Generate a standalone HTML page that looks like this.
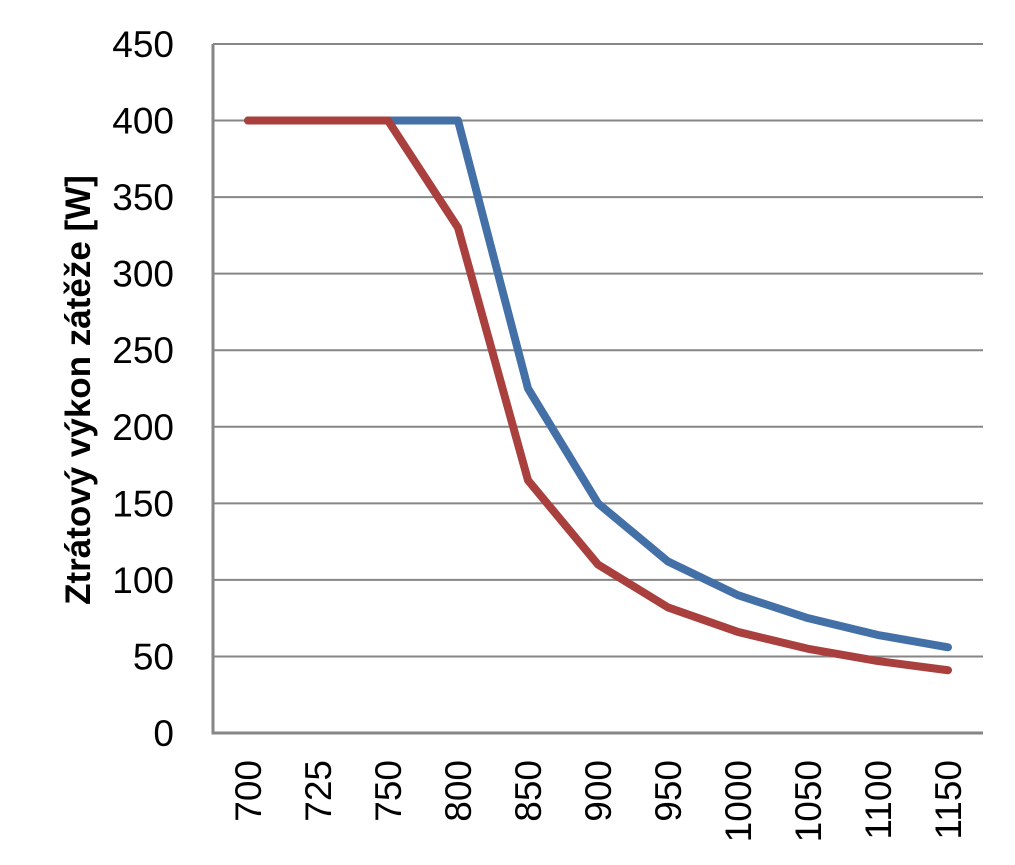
<!DOCTYPE html>
<html><head><meta charset="utf-8"><style>
body{margin:0;background:#fff}
text{font-family:"Liberation Sans",sans-serif;fill:#000}
</style></head><body>
<svg width="1015" height="860">
<g id="grid"></g><g id="axes"></g><g id="series"></g><g id="labels"></g>
<text transform="translate(90,390) rotate(-90)" text-anchor="middle" font-size="35" font-weight="bold">Ztrátový výkon zátěže [W]</text>
</svg>
<script>
const categories=["700","725","750","800","850","900","950","1000","1050","1100","1150"];
const blueValues=[400,400,400,400,225,150,112,90,75,64,56];
const redValues=[400,400,400,330,165,110,82,66,55,47,41];
const yTicks=[0,50,100,150,200,250,300,350,400,450];
const NS="http://www.w3.org/2000/svg";
const L=213,R=983,T=44,B=733,yMax=450;
const step=(R-L)/categories.length;
const x=i=>L+step*(i+0.5);
const y=v=>B-(v/yMax)*(B-T);
function mk(tag,attrs,parent){const e=document.createElementNS(NS,tag);for(const k in attrs)e.setAttribute(k,attrs[k]);document.getElementById(parent).appendChild(e);return e;}
yTicks.forEach(v=>{
 if(v>0){const g=mk('line',{x1:L,x2:R,y1:y(v),y2:y(v),stroke:'#868686','stroke-width':2},'grid');
 
 }
 const t=mk('text',{x:174,y:y(v)+13,'text-anchor':'end','font-size':37},'labels');
 t.textContent=v;
 
 
});
const ax=mk('polyline',{points:`${L},${T} ${L},${B} ${R},${B}`,fill:'none',stroke:'#868686','stroke-width':3},'axes');


categories.forEach((c,i)=>{
 const t=mk('text',{transform:`translate(${x(i)+13},760) rotate(-90)`,'text-anchor':'end','font-size':37},'labels');
 t.textContent=c;
 
 
});
function line(vals,color,name){
 const p=mk('polyline',{points:vals.map((v,i)=>x(i)+','+y(v)).join(' '),fill:'none',stroke:color,'stroke-width':8,'stroke-linejoin':'round','stroke-linecap':'round'},'series');
 
 
}
line(blueValues,'#4470a8','series-blue');
line(redValues,'#a9403e','series-red');
</script>
</body></html>
